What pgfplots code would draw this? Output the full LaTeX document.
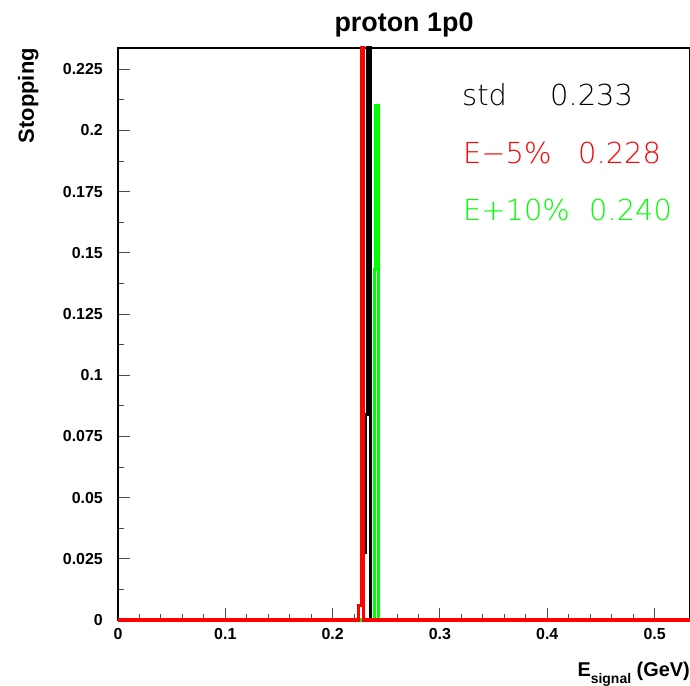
\documentclass[border=0pt]{standalone}
\usepackage{pgfplots}
\pgfplotsset{compat=1.18}
\usepackage{fontspec}
\setmainfont{Liberation Sans}
\IfFontExistsTF{DejaVu Sans ExtraLight}{\newfontfamily\legfont{DejaVu Sans ExtraLight}}{\newfontfamily\legfont{DejaVu Sans}}
\definecolor{rootgreen}{rgb}{0,1,0}
\definecolor{rootred}{rgb}{1,0,0}
\begin{document}
\begin{tikzpicture}[x=1bp,y=1bp]
\useasboundingbox (-118,-66) rectangle (572,620);
\begin{axis}[at={(0,0)}, anchor=south west, scale only axis,
  width=572bp, height=572bp,
  xmin=0, xmax=0.533, ymin=0, ymax=0.2337,
  axis line style={line width=2bp},
  xtick={0,0.1,0.2,0.3,0.4,0.5},
  xticklabels={0,0.1,0.2,0.3,0.4,0.5},
  ytick={0,0.025,0.05,0.075,0.1,0.125,0.15,0.175,0.2,0.225},
  yticklabels={0,0.025,0.05,0.075,0.1,0.125,0.15,0.175,0.2,0.225},
  minor x tick num=4, minor y tick num=1,
  tick align=inside, xtick pos=bottom, ytick pos=left,
  major tick length=12bp, minor tick length=6bp,
  every tick/.style={line width=1bp, black!70},
  /pgf/number format/assume math mode=true,
  every tick label/.append style={inner sep=0pt, font=\fontsize{16}{16}\selectfont\bfseries},
  yticklabel style={anchor=east, xshift=-15bp},
  xticklabel style={anchor=north, yshift=-8bp},
  clip=false,
]
\addplot[const plot mark left, line width=3bp, black] coordinates {
  (0,0) (0.2288,0.0274) (0.2302,0.0838) (0.2322,0.2337) (0.2352,0) (0.533,0)};
\addplot[const plot mark left, line width=3bp, rootgreen] coordinates {
  (0,0) (0.2392,0.143) (0.2404,0.2103) (0.2427,0) (0.533,0)};
\addplot[const plot mark left, line width=3bp, rootred] coordinates {
  (0,0) (0.2241,0.0061) (0.2266,0.2337) (0.2292,0) (0.533,0)};
\end{axis}
% title and axis labels
\node[anchor=base, font=\fontsize{27}{27}\selectfont\bfseries] at (286,588) {proton 1p0};
\node[rotate=90, anchor=base east, inner sep=0pt, font=\fontsize{22}{22}\selectfont\bfseries] at (-84,572) {Stopping};
\node[anchor=base east, font=\fontsize{20}{20}\selectfont\bfseries, inner sep=0pt] at (572,-56)
  {E\raisebox{-0.38em}{\fontsize{14}{14}\selectfont signal} (GeV)};
% legend-like annotations
\node[anchor=base west, inner sep=0pt, font=\legfont\fontsize{29}{29}\selectfont] at (344,514) {std};
\node[anchor=base west, inner sep=0pt, font=\legfont\fontsize{29}{29}\selectfont] at (432,514) {0.233};
\node[anchor=base west, inner sep=0pt, text=rootred, font=\legfont\fontsize{29}{29}\selectfont] at (345,456) {E−5\%};
\node[anchor=base west, inner sep=0pt, text=rootred, font=\legfont\fontsize{29}{29}\selectfont] at (460,456) {0.228};
\node[anchor=base west, inner sep=0pt, text=rootgreen, font=\legfont\fontsize{29}{29}\selectfont] at (345,399) {E+10\%};
\node[anchor=base west, inner sep=0pt, text=rootgreen, font=\legfont\fontsize{29}{29}\selectfont] at (471,399) {0.240};
\end{tikzpicture}
\end{document}
